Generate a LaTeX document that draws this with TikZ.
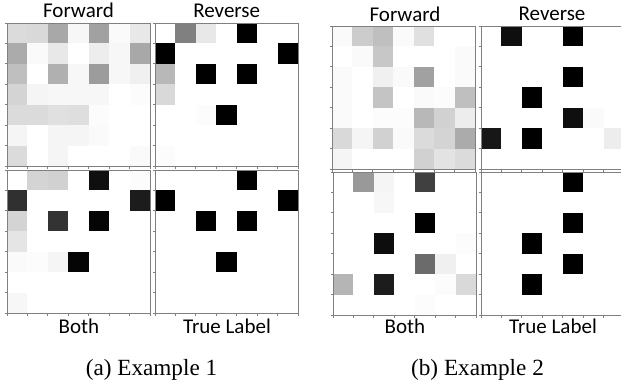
\documentclass[tikz,border=0pt]{standalone}
\usepackage{fontspec}
\setmainfont{Liberation Serif}
\newfontfamily\lblfont{Carlito}
\newcommand\hmpanel[3]{%
  \foreach \r/\c/\v in {#3} {
    \fill[black!\v] ({#1+(\c-1)*20.43},{#2+(\r-1)*20.43}) rectangle +(20.43,20.43);
  }
  \draw[frame] (#1,#2) rectangle +(143,143);
  \foreach \i in {0,...,7} {
    \draw[frame] (#1,{#2+\i*20.43}) -- +(-2.5,0);
    \draw[frame] ({#1+\i*20.43},{#2+143}) -- +(0,2.5);
  }
}
\begin{document}
\begin{tikzpicture}[x=1pt,y=-1pt,
  frame/.style={draw=black!50, line width=0.8pt},
  ttl/.style={anchor=base, inner sep=0pt, font=\lblfont\fontsize{21}{21}\selectfont},
  captext/.style={anchor=base, inner sep=0pt, font=\fontsize{23.2}{23.2}\selectfont}]
\clip (0,0) rectangle (621,385);
\fill[white] (0,0) rectangle (621,385);
% Example 1
\hmpanel{7}{23}{1/1/14,1/2/15,1/3/34,1/4/3,1/5/37,1/6/2,1/7/9,
 2/1/33,2/2/2,2/3/9,2/5/7,2/6/3,2/7/34,
 3/1/25,3/3/31,3/4/3,3/5/39,3/6/3,3/7/6,
 4/1/17,4/2/4,4/3/3,4/4/3,4/5/3,4/7/1,
 5/1/14,5/2/14,5/3/12,5/4/13,5/5/1,
 6/1/4,6/3/4,6/4/4,6/5/2,
 7/1/14,7/3/4,7/7/2}
\hmpanel{155}{23}{1/2/50,1/3/9,1/5/100,2/1/100,2/7/100,3/1/28,3/3/100,3/5/100,4/1/15,5/3/1,5/4/100,7/1/1}
\hmpanel{7}{170}{1/2/17,1/3/18,1/5/94,1/7/1,2/1/81,2/7/89,3/1/17,3/3/80,3/5/98,4/1/10,5/1/2,5/2/1,5/3/4,5/4/98,7/1/3}
\hmpanel{155}{170}{1/5/100,2/1/100,2/7/100,3/3/100,3/5/100,5/4/100}
% Example 2
\hmpanel{332}{26}{1/1/2,1/2/20,1/3/25,1/4/2,1/5/12,
 2/2/2,2/3/22,2/7/2,
 3/1/2,3/3/6,3/4/2,3/5/37,3/7/2,
 4/1/2,4/3/23,4/5/2,4/6/1,4/7/25,
 5/1/2,5/3/1,5/4/1,5/5/28,5/6/18,5/7/7,
 6/1/15,6/2/4,6/3/18,6/4/2,6/5/14,6/6/17,6/7/33,
 7/1/4,7/5/18,7/6/11,7/7/14}
\hmpanel{481}{26}{1/2/94,1/5/100,3/5/100,4/3/100,5/5/94,5/6/2,6/1/91,6/3/100,6/7/7}
\hmpanel{333}{172}{1/2/40,1/3/4,1/5/75,2/3/3,3/5/100,4/3/95,4/7/1,5/5/58,5/6/6,6/1/29,6/3/89,6/6/1,6/7/15,7/5/1}
\hmpanel{481}{172}{1/5/100,3/5/100,4/3/100,5/5/100,6/3/100}
% Titles
\node[ttl] (fwd1) at (78.5,17.3) {Forward};
\node[ttl] (rev1) at (226.7,17.3) {Reverse};
\node[ttl] (both1) at (79,333.3) {Both};
\node[ttl] (true1) at (227,333.3) {True Label};
\node[ttl] (fwd2) at (405,21.5) {Forward};
\node[ttl] (rev2) at (552,20.5) {Reverse};
\node[ttl] (both2) at (405,333.3) {Both};
\node[ttl] (true2) at (553,333.3) {True Label};
\node[captext] (capa) at (151.5,375) {(a) Example 1};
\node[captext] (capb) at (477.5,375) {(b) Example 2};
\end{tikzpicture}
\end{document}
